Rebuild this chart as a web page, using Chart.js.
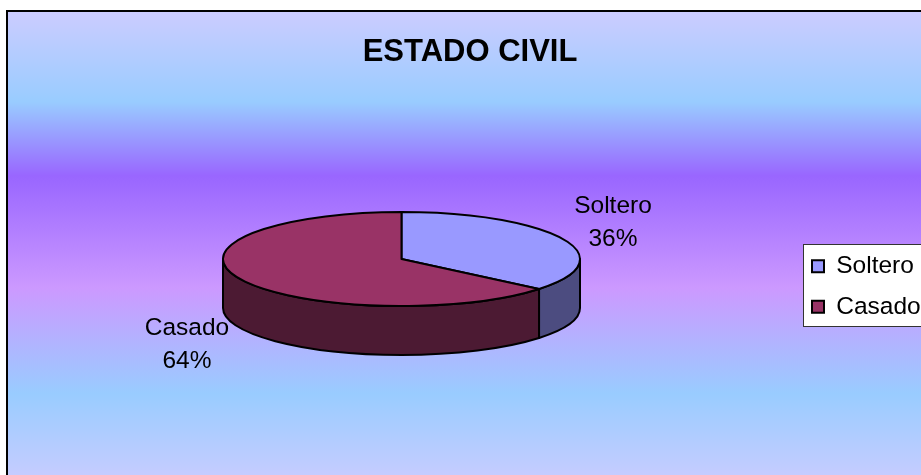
<!DOCTYPE html>
<html>
<head>
<meta charset="utf-8">
<style>
  html, body { margin: 0; padding: 0; background: #fff; overflow: hidden; }
  canvas { display: block; }
</style>
<script src="https://cdn.jsdelivr.net/npm/chart.js@4/dist/chart.umd.js"></script>
</head>
<body>
<canvas id="pieChart" width="921" height="475"></canvas>
<script>
const categories = ['Soltero', 'Casado'];
const seriesValues = [36, 64];
const topColors = ['#9999ff', '#993366'];
const wallColors = ['#4c4c80', '#4c1a33'];
const chartTitle = 'ESTADO CIVIL';

const FONT = '"Liberation Sans", Arial, sans-serif';

// fake 3D: the library works out the arc angles, this squashes them into a disc
const PIE = { cx: 401.5, cy: 259, tilt: 0.263, depth: 49 };
const LABEL_POS = [{ x: 613, y: 206 }, { x: 187, y: 328 }];
const LABEL_GAP = 33;
const FRAME = { x: 7, y: 11 };
const LEGEND_BOX = { x: 803, y: 244, w: 130, h: 82 };

const pie3d = {
  id: 'pie3d',
  beforeDraw(chart) {
    const ctx = chart.ctx;
    const grad = ctx.createLinearGradient(0, FRAME.y, 0, 489);
    grad.addColorStop(0, '#ccccff');
    grad.addColorStop(0.19, '#99ccff');
    grad.addColorStop(0.345, '#9966ff');
    grad.addColorStop(0.58, '#cc99ff');
    grad.addColorStop(0.80, '#99ccff');
    grad.addColorStop(1, '#ccccff');
    ctx.save();
    ctx.fillStyle = grad;
    ctx.fillRect(FRAME.x, FRAME.y, chart.width, chart.height);
    ctx.strokeStyle = '#000';
    ctx.lineWidth = 2;
    ctx.strokeRect(FRAME.x, FRAME.y, chart.width + 20, chart.height + 20);
    ctx.fillStyle = '#fff';
    ctx.fillRect(LEGEND_BOX.x, LEGEND_BOX.y, LEGEND_BOX.w, LEGEND_BOX.h);
    ctx.strokeStyle = '#333';
    ctx.lineWidth = 1;
    ctx.strokeRect(LEGEND_BOX.x + 0.5, LEGEND_BOX.y + 0.5, LEGEND_BOX.w, LEGEND_BOX.h);
    ctx.restore();
  },
  afterLayout(chart) {
    chart.titleBlock.left = 19;
    chart.titleBlock.right = 921;
    chart.titleBlock.top = 34;
    chart.legend.left = 796;
    chart.legend.right = 933;
    chart.legend.top = 238;
  },
  beforeDatasetsDraw(chart) {
    const ctx = chart.ctx;
    const arcs = chart.getDatasetMeta(0).data;
    const { cx, cy, tilt, depth } = PIE;
    ctx.save();
    ctx.lineJoin = 'round';
    arcs.forEach((arc, i) => {
      const { startAngle, endAngle, outerRadius: r } = arc.getProps(['startAngle', 'endAngle', 'outerRadius'], true);
      const a = Math.max(startAngle, 0);
      const b = Math.min(endAngle, Math.PI);
      if (b <= a) return;
      ctx.beginPath();
      ctx.ellipse(cx, cy, r, r * tilt, 0, a, b, false);
      ctx.ellipse(cx, cy + depth, r, r * tilt, 0, b, a, true);
      ctx.closePath();
      ctx.fillStyle = wallColors[i];
      ctx.fill();
      ctx.strokeStyle = arc.options.borderColor;
      ctx.lineWidth = arc.options.borderWidth;
      ctx.stroke();
    });
    arcs.forEach((arc) => {
      const { startAngle, endAngle, outerRadius: r } = arc.getProps(['startAngle', 'endAngle', 'outerRadius'], true);
      ctx.beginPath();
      ctx.moveTo(cx, cy);
      ctx.ellipse(cx, cy, r, r * tilt, 0, startAngle, endAngle, false);
      ctx.closePath();
      ctx.fillStyle = arc.options.backgroundColor;
      ctx.fill();
      ctx.strokeStyle = arc.options.borderColor;
      ctx.lineWidth = arc.options.borderWidth;
      ctx.stroke();
    });
    ctx.restore();
    return false;
  },
  afterDraw(chart) {
    const ctx = chart.ctx;
    const total = seriesValues.reduce((s, v) => s + v, 0);
    ctx.save();
    ctx.font = '24.5px ' + FONT;
    ctx.fillStyle = '#000';
    ctx.textAlign = 'center';
    ctx.textBaseline = 'middle';
    categories.forEach((name, i) => {
      ctx.fillText(name, LABEL_POS[i].x, LABEL_POS[i].y);
      ctx.fillText(Math.round(seriesValues[i] / total * 100) + '%', LABEL_POS[i].x, LABEL_POS[i].y + LABEL_GAP);
    });
    ctx.restore();
  }
};

new Chart(document.getElementById('pieChart'), {
  type: 'pie',
  data: {
    labels: categories,
    datasets: [{
      data: seriesValues,
      backgroundColor: topColors,
      borderColor: '#000',
      borderWidth: 2,
      radius: 178.5
    }]
  },
  options: {
    responsive: false,
    animation: false,
    plugins: {
      tooltip: { enabled: false },
      title: {
        display: true,
        text: chartTitle,
        color: '#000',
        padding: 0,
        font: { family: FONT, size: 31, weight: 'bold' }
      },
      legend: {
        position: 'right',
        align: 'start',
        labels: {
          color: '#000',
          boxWidth: 12,
          boxHeight: 12,
          padding: 16,
          font: { family: FONT, size: 24.5 }
        }
      }
    }
  },
  plugins: [pie3d]
});
</script>
</body>
</html>
